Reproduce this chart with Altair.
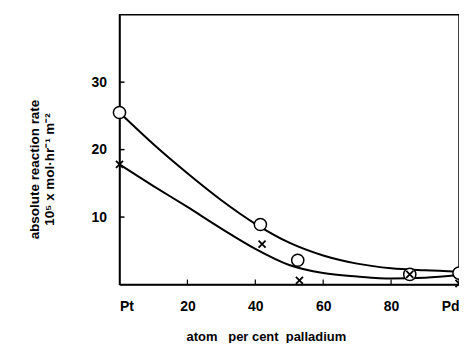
import altair as alt
import pandas as pd

# curve values
curve_x = [0, 10, 20, 30, 40, 50, 60, 70, 80, 90, 100]
upper_y = [25.5, 20.8, 16.5, 12.5, 9.0, 6.2, 4.3, 3.1, 2.4, 2.1, 1.9]
lower_y = [17.8, 14.6, 11.5, 8.3, 5.3, 2.9, 1.7, 1.2, 0.9, 1.0, 1.4]

circle_x = [0, 41.5, 52.5, 85.5, 100]
circle_y = [25.5, 8.9, 3.6, 1.5, 1.7]
cross_x = [0, 42, 53, 85.5, 100]
cross_y = [17.8, 6.0, 0.6, 1.5, 0.15]

x_ticks = [0, 20, 40, 60, 80, 100]
y_ticks = [10, 20, 30]

FONT = "Liberation Sans"

curves = pd.DataFrame(
    [{"x": x, "y": y, "s": "upper"} for x, y in zip(curve_x, upper_y)]
    + [{"x": x, "y": y, "s": "lower"} for x, y in zip(curve_x, lower_y)]
)
circles = pd.DataFrame({"x": circle_x, "y": circle_y})
crosses = pd.DataFrame({"x": cross_x, "y": cross_y})
xt = pd.DataFrame({"x": x_ticks[1:-1]})
yt = pd.DataFrame({"y": y_ticks})

xscale = alt.Scale(domain=[0, 100], nice=False, zero=False)
yscale = alt.Scale(domain=[0, 40], nice=False, zero=False)

xaxis = alt.Axis(
    values=x_ticks,
    labelExpr="datum.value == 0 ? 'Pt' : datum.value == 100 ? 'Pd' : datum.label",
    title="atom\u00a0\u00a0\u00a0per cent\u00a0\u00a0palladium",
    grid=False, tickSize=0, labelPadding=15, titlePadding=17,
    domainColor="black", domainWidth=1.5,
    labelFont=FONT, labelFontSize=14, labelFontWeight="bold", labelColor="black",
    titleFont=FONT, titleFontSize=13, titleFontWeight="bold", titleColor="black",
    titleX=147,
)
yaxis = alt.Axis(
    values=y_ticks,
    title=["absolute reaction rate", "10⁵ x mol·hr⁻¹ m⁻²"],
    grid=False, tickSize=0, labelPadding=13,
    domainColor="black", domainWidth=1.5,
    labelFont=FONT, labelFontSize=14, labelFontWeight="bold", labelColor="black",
    titleFont=FONT, titleFontSize=13.5, titleFontWeight="bold", titleColor="black",
    titleX=-78, titleY=155, titleAngle=-90, titleAlign="center", titleBaseline="bottom",
    titleLineHeight=15,
)

lines = alt.Chart(curves).mark_line(
    color="black", strokeWidth=2, interpolate="monotone"
).encode(
    x=alt.X("x:Q", scale=xscale, axis=xaxis),
    y=alt.Y("y:Q", scale=yscale, axis=yaxis),
    detail="s:N",
)

circ = alt.Chart(circles).mark_point(
    shape="circle", size=150, filled=True, fill="white", stroke="black", strokeWidth=1.5, opacity=1
).encode(x=alt.X("x:Q", scale=xscale), y=alt.Y("y:Q", scale=yscale))

crs = alt.Chart(crosses).mark_point(
    shape="M-1,-1L1,1M-1,1L1,-1", size=50, filled=False, stroke="black", strokeWidth=1.8, opacity=1
).encode(x=alt.X("x:Q", scale=xscale), y=alt.Y("y:Q", scale=yscale))

xtick_marks = alt.Chart(xt).mark_rule(color="black", strokeWidth=1.2).encode(
    x=alt.X("x:Q", scale=xscale), y=alt.value(271), y2=alt.value(266)
)
ytick_marks = alt.Chart(yt).mark_rule(color="black", strokeWidth=1.5).encode(
    y=alt.Y("y:Q", scale=yscale), x=alt.value(0), x2=alt.value(5)
)

chart = alt.layer(lines, xtick_marks, ytick_marks, circ, crs).properties(
    width=341, height=271,
    autosize=alt.AutoSizeParams(type="none"),
    padding={"left": 112, "top": 6, "right": 0, "bottom": 58},
    background="white",
).configure_view(stroke="black", strokeWidth=1.5)

chart.save("out.html", embed_options={"renderer": "svg", "actions": False})
